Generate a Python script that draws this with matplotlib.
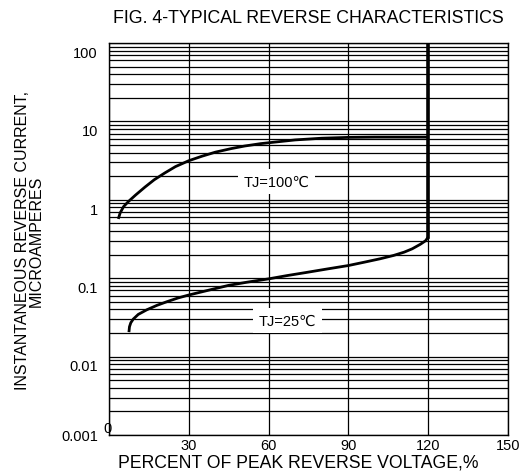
import numpy as np
import matplotlib
matplotlib.use('Agg')
import matplotlib.pyplot as plt
from matplotlib.transforms import ScaledTranslation

plt.rcParams['font.family'] = ['Liberation Sans', 'DejaVu Sans']

# values
x_100 = [3.5, 4.2, 5.5, 7.3, 10, 13.5, 17, 21, 25, 30, 35, 40, 46, 51, 57, 62.5, 70, 80, 90, 100, 110, 120]
y_100 = [0.57, 0.68, 0.82, 0.95, 1.15, 1.45, 1.8, 2.2, 2.65, 3.15, 3.6, 4.05, 4.5, 4.85, 5.2, 5.45, 5.8, 6.1, 6.25, 6.3, 6.3, 6.3]

x_25 = [7.5, 7.7, 8.2, 9.1, 11, 14.2, 18, 21.7, 26, 30, 38, 45, 52, 60, 67, 74, 82, 90, 96, 102, 107, 111, 114, 117, 119, 120]
y_25 = [0.0205, 0.024, 0.027, 0.030, 0.0345, 0.0395, 0.045, 0.050, 0.056, 0.061, 0.071, 0.081, 0.089, 0.098, 0.108, 0.118, 0.131, 0.145, 0.160, 0.177, 0.195, 0.215, 0.237, 0.27, 0.30, 0.334]

break_x = 120
break_y = [0.334, 100]

x_ticks = [0, 30, 60, 90, 120, 150]
y_ticks = [0.001, 0.01, 0.1, 1, 10, 100]
y_tick_labels = ['0.001', '0.01', '0.1', '1', '10', '100']

fig = plt.figure(figsize=(5.25, 4.77), dpi=100)
ax = fig.add_axes([0.2076, 0.086, 0.76, 0.8218])

ax.set_yscale('log')
ax.set_xlim(0, 150)
ax.set_ylim(0.001, 100)

ax.set_xticks(x_ticks)
ax.set_xticklabels(['', '30', '60', '90', '120', '150'], fontsize=10.5)
ax.set_yticks(y_ticks)
ax.set_yticklabels(y_tick_labels, fontsize=10.5)
ax.tick_params(axis='both', which='both', length=0)
ax.tick_params(axis='y', pad=8)
ax.tick_params(axis='x', pad=2)

# grid: every log minor line, vertical at 30s
ax.yaxis.set_minor_locator(matplotlib.ticker.LogLocator(base=10, subs=np.arange(2, 10)))
ax.yaxis.set_minor_formatter(matplotlib.ticker.NullFormatter())
ax.grid(True, which='both', axis='y', color='black', linewidth=0.9)
ax.grid(True, which='major', axis='x', color='black', linewidth=0.9)
for s in ax.spines.values():
    s.set_linewidth(1.0)

# y tick labels sit a little below their lines in the reference
offset = ScaledTranslation(0, -6 / 72, fig.dpi_scale_trans)
for lab in ax.get_yticklabels()[1:]:
    lab.set_transform(lab.get_transform() + offset)

ax.text(-0.5, 0.001, '0', transform=ax.transData, fontsize=10.5, ha='center', va='bottom')

ax.plot(x_100, y_100, color='black', linewidth=2.0, solid_capstyle='butt', zorder=3)
ax.plot(x_25, y_25, color='black', linewidth=2.0, solid_capstyle='butt', zorder=3)
ax.plot([break_x, break_x], break_y, color='black', linewidth=2.6, zorder=3)

ax.text(63, 1.7, 'TJ=100\u2103', fontsize=10.5, ha='center', va='center', zorder=4,
        bbox=dict(facecolor='white', edgecolor='none', pad=4))
ax.text(67, 0.0286, 'TJ=25\u2103', fontsize=10.5, ha='center', va='center', zorder=4,
        bbox=dict(facecolor='white', edgecolor='none', pad=4))

fig.text(0.587, 0.962, 'FIG. 4-TYPICAL REVERSE CHARACTERISTICS', fontsize=12.8,
         ha='center', va='center')
fig.text(0.568, 0.029, 'PERCENT OF PEAK REVERSE VOLTAGE,%', fontsize=12.7,
         ha='center', va='center')
fig.text(0.056, 0.495, 'INSTANTANEOUS REVERSE CURRENT,\nMICROAMPERES', fontsize=11.5,
         rotation=90, ha='center', va='center', linespacing=0.85, multialignment='center')

fig.savefig('out.png', dpi=100)
